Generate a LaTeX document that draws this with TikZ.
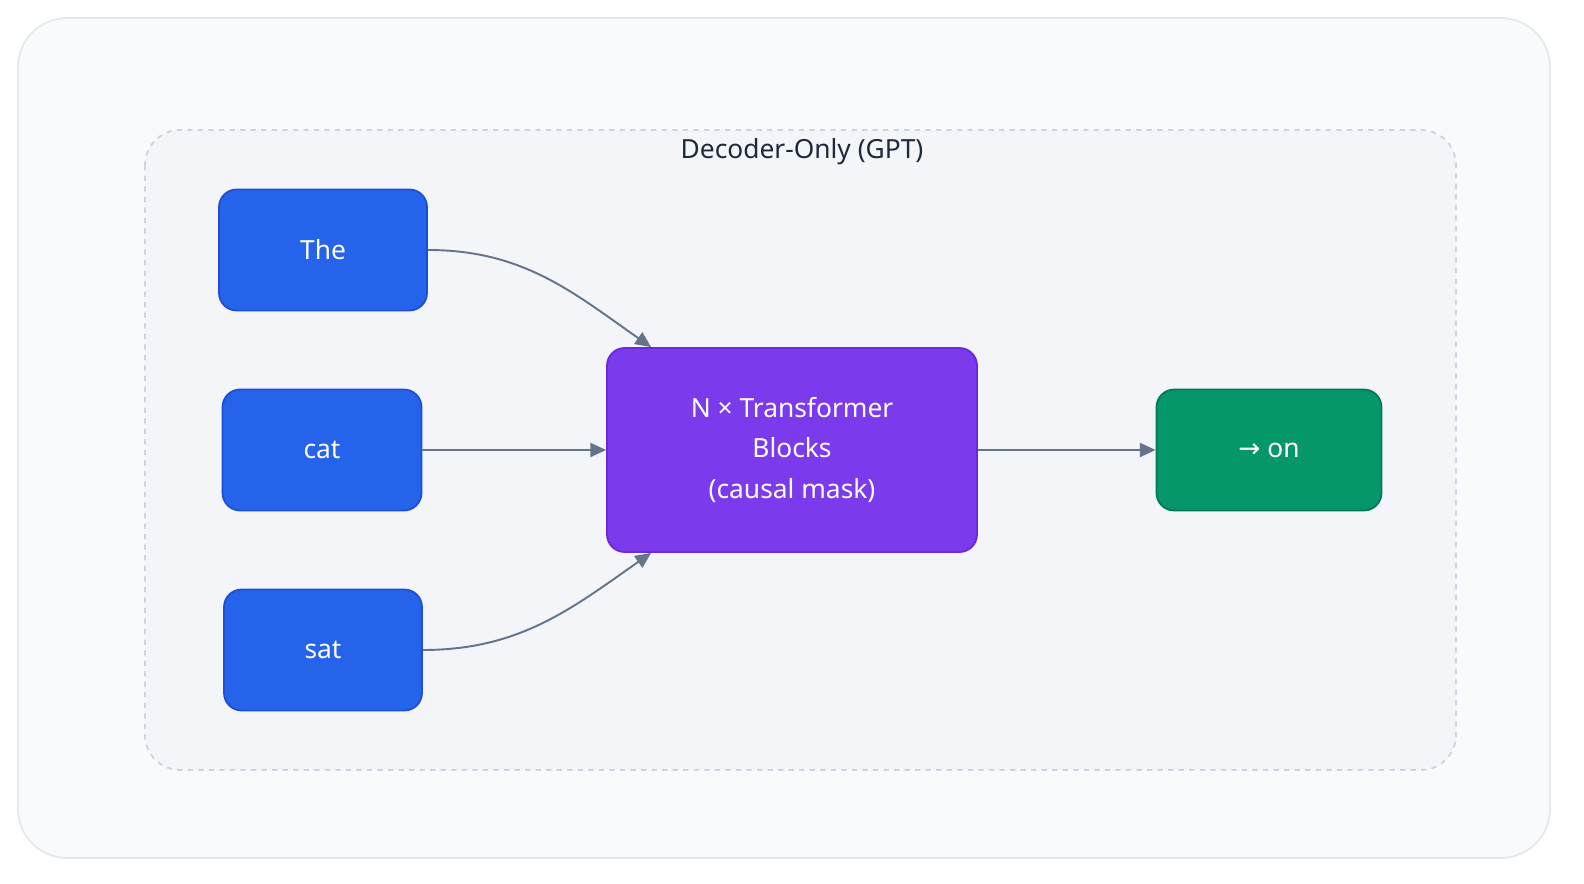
\documentclass[tikz,border=0pt]{standalone}
\usepackage{fontspec}
\setmainfont{Noto Sans}
\newfontfamily\symfont{DejaVu Sans}
\usetikzlibrary{arrows.meta,calc}
\definecolor{bgfill}{HTML}{F9FAFC}
\definecolor{bgline}{HTML}{E2E8F0}
\definecolor{grpfill}{HTML}{F3F5F9}
\definecolor{grpline}{HTML}{CBD5E1}
\definecolor{tokfill}{HTML}{2563EB}
\definecolor{tokline}{HTML}{1D4ED8}
\definecolor{blkfill}{HTML}{7C3AED}
\definecolor{blkline}{HTML}{6D28D9}
\definecolor{outfill}{HTML}{059669}
\definecolor{outline}{HTML}{047857}
\definecolor{edge}{HTML}{64748B}
\definecolor{title}{HTML}{1E293B}
\tikzset{
  box/.style={draw, line width=1pt, rounded corners=10pt, text=white,
    font=\fontsize{15}{23}\selectfont, align=center, inner sep=0pt},
  token/.style={box, fill=tokfill, draw=tokline},
  link/.style={draw=edge, line width=1.1pt, -{Triangle[length=9pt,width=8pt]}}
}
\begin{document}
\begin{tikzpicture}[x=0.02cm,y=-0.02cm]
  \useasboundingbox (0,0) rectangle (1584,884);
  % frame and group
  \draw[bgline, fill=bgfill, line width=1pt, rounded corners=28pt] (18,18) rectangle (1550,858);
  \draw[grpline, fill=grpfill, line width=1pt, dashed, rounded corners=20pt] (145,130) rectangle (1456,770);
  \node[font=\fontsize{15}{18}\selectfont\bfseries, text=title] (ttl) at (802,152) {Decoder-Only (GPT)};
  % tokens
  \node[token, minimum width=208*0.02cm, minimum height=121*0.02cm] (the) at (323,250) {The};
  \node[token, minimum width=199*0.02cm, minimum height=121*0.02cm] (cat) at (322,450) {cat};
  \node[token, minimum width=198*0.02cm, minimum height=121*0.02cm] (sat) at (323,650) {sat};
  % blocks and output
  \node[box, fill=blkfill, draw=blkline, minimum width=370*0.02cm, minimum height=204*0.02cm] (blk) at (792,450)
    {N × Transformer\\Blocks\\(causal mask)};
  \node[box, fill=outfill, draw=outline, minimum width=225*0.02cm, minimum height=121*0.02cm] (out) at (1269,450) {{\symfont →} on};
  \coordinate (blktop) at ($(blk.north west)+(45,0)$);
  \coordinate (blkbot) at ($(blk.south west)+(45,0)$);
  % connectors
  \draw[link] (the.east) to[out=0,in=145] (blktop);
  \draw[link] (cat.east) -- (blk.west);
  \draw[link] (sat.east) to[out=0,in=-145] (blkbot);
  \draw[link] (blk.east) -- (out.west);
\end{tikzpicture}
\end{document}
